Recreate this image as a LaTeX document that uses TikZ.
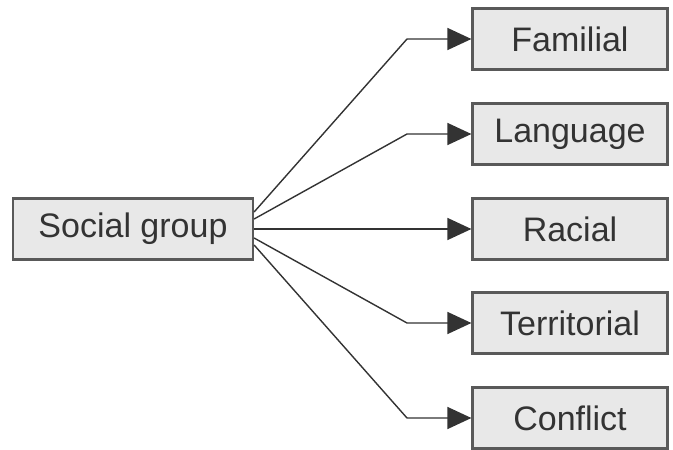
\documentclass[tikz,border=0pt]{standalone}
\usepackage{fontspec}
\setmainfont{Liberation Sans}
\usetikzlibrary{arrows.meta}
\begin{document}
\begin{tikzpicture}[x=1pt,y=-1pt,
  box/.style={draw=black!65,line width=2.2pt,fill=black!9,
    minimum height=61pt,inner sep=0pt,font=\fontsize{34}{40}\selectfont,text=black!80},
  rbox/.style={box,minimum width=195pt},
  conn/.style={draw=black!80,line width=1.4pt,-{Triangle[length=24pt,width=22pt]}}]
\useasboundingbox (0,0) rectangle (673,450);
\node[box,minimum width=240pt] (sg) at (133,229) {Social group};
\node[rbox] (f) at (570,39) {Familial};
\node[rbox] (l) at (570,134) {Language};
\node[rbox] (r) at (570,229) {Racial};
\node[rbox] (t) at (570,323) {Territorial};
\node[rbox] (c) at (570,418) {Conflict};
\coordinate (ef) at (407,39);
\coordinate (el) at (407,134);
\coordinate (et) at (407,323);
\coordinate (ec) at (407,418);
\draw[conn] ([yshift=17pt]sg.east) -- (ef) -- (f.west);
\draw[conn] ([yshift=10pt]sg.east) -- (el) -- (l.west);
\draw[conn] (sg.east) -- (r.west);
\draw[conn] ([yshift=-9pt]sg.east) -- (et) -- (t.west);
\draw[conn] ([yshift=-16pt]sg.east) -- (ec) -- (c.west);
\end{tikzpicture}
\end{document}
